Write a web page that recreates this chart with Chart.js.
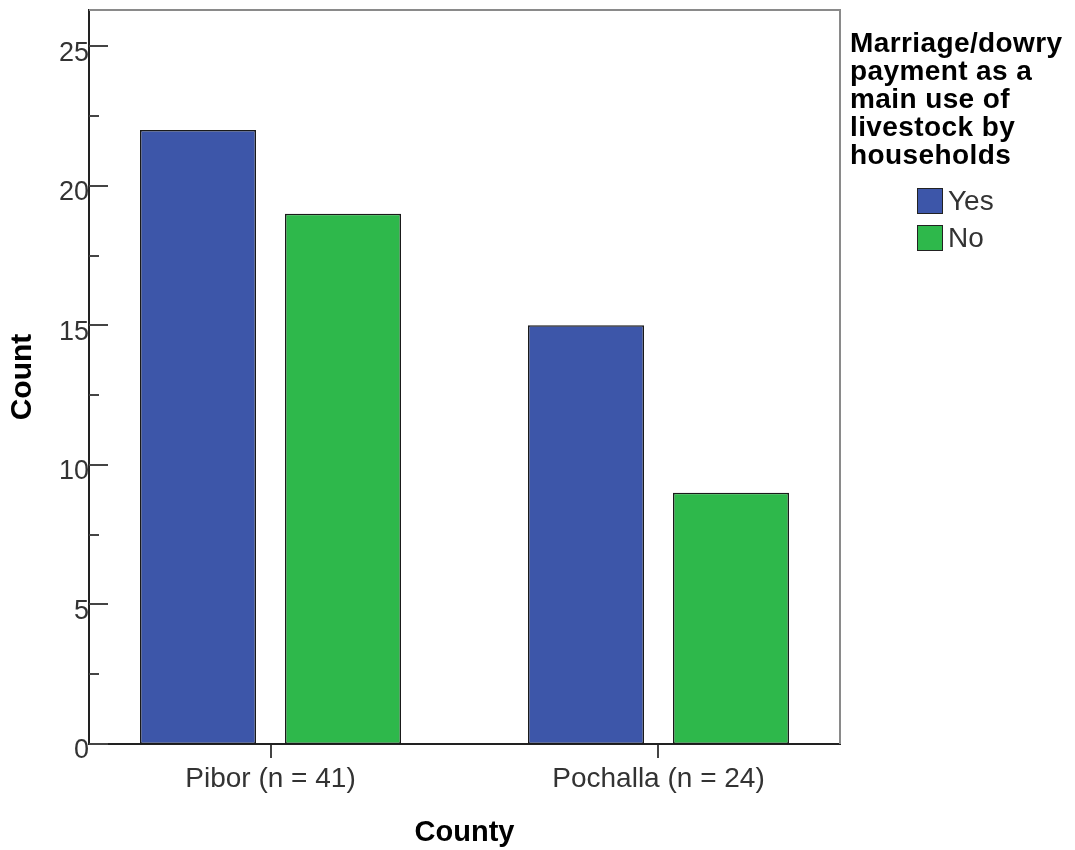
<!DOCTYPE html>
<html>
<head>
<meta charset="utf-8">
<script src="https://cdn.jsdelivr.net/npm/chart.js@4.4.0/dist/chart.umd.min.js"></script>
<style>
  html, body { margin: 0; padding: 0; background: #fff; }
  #wrap { position: relative; width: 1075px; height: 850px; }
  canvas { position: absolute; left: 0; top: 0; }
  #legend { position: absolute; left: 850px; top: 29px; font-family: "Liberation Sans", Arial, sans-serif; }
  #legend .title { font-weight: bold; font-size: 28px; line-height: 28px; letter-spacing: 0.4px; color: #000; white-space: nowrap; }
  #legend .item { position: absolute; left: 67px; height: 27px; font-size: 28px; color: #333; white-space: nowrap; }
  #legend .box { position: absolute; left: 0; top: 0; width: 24px; height: 24px; border: 1.5px solid #222; }
  #legend .lbl { position: absolute; left: 31px; top: -3px; }
</style>
</head>
<body>
<div id="wrap">
  <canvas id="c" width="1075" height="850"></canvas>
  <div id="legend"></div>
</div>
<script>
const categories = ["Pibor (n = 41)", "Pochalla (n = 24)"];
const seriesNames = ["Yes", "No"];
const yesCounts = [22, 15];
const noCounts = [19, 9];
const seriesColors = ["#3D56A9", "#2EB84B"];
const legendTitleLines = ["Marriage/dowry", "payment as a", "main use of", "livestock by", "households"];
const yTickStep = 5;
const yMax = 26.3;

const FONT = '"Liberation Sans", Arial, sans-serif';

const seriesValues = [yesCounts, noCounts];
const datasets = seriesNames.map((name, s) => ({
  label: name,
  data: categories.map((c, i) => ({ x: i, y: seriesValues[s][i] })),
  backgroundColor: seriesColors[s],
  borderColor: "#1a1a1a",
  borderWidth: 1.5,
  borderSkipped: false,
  categoryPercentage: 0.7474,
  barPercentage: 0.8
}));

const framePlugin = {
  id: "frame",
  afterDatasetsDraw(chart) {
    const ctx = chart.ctx;
    const a = chart.chartArea;
    const y = chart.scales.y;
    ctx.save();
    ctx.strokeStyle = "#8a8a8a";
    ctx.lineWidth = 2;
    ctx.beginPath();
    ctx.moveTo(a.left, a.top);
    ctx.lineTo(a.right, a.top);
    ctx.lineTo(a.right, a.bottom);
    ctx.stroke();
    ctx.strokeStyle = "#444";
    ctx.lineWidth = 2;
    for (let v = 0; v <= y.max; v += yTickStep / 2) {
      const major = Math.abs(v % yTickStep) < 1e-9;
      const py = Math.round(y.getPixelForValue(v));
      ctx.beginPath();
      ctx.moveTo(a.left, py);
      ctx.lineTo(a.left + (major ? 19 : 10), py);
      ctx.stroke();
    }
    ctx.restore();
  }
};

new Chart(document.getElementById("c"), {
  type: "bar",
  data: { datasets },
  plugins: [framePlugin],
  options: {
    responsive: false,
    animation: false,
    layout: { padding: { top: 10, right: 235, bottom: 0, left: 0 } },
    plugins: { legend: { display: false }, tooltip: { enabled: false } },
    scales: {
      x: {
        type: "linear",
        min: -0.4678,
        max: 1.4678,
        offset: false,
        afterBuildTicks(scale) { scale.ticks = categories.map((c, i) => ({ value: i })); },
        afterFit(scale) { scale.height = 106; scale.paddingLeft = 0; scale.paddingRight = 0; },
        ticks: {
          autoSkip: false, maxRotation: 0, padding: 4,
          color: "#333",
          font: { family: FONT, size: 28 },
          callback: (v) => categories[v]
        },
        grid: { offset: false, drawOnChartArea: false, drawTicks: true, tickLength: 14, color: "#444", lineWidth: 2 },
        border: { display: true, color: "#222", width: 2 },
        title: { display: true, text: "County", color: "#000", font: { family: FONT, size: 29, weight: "bold" }, padding: { top: 11, bottom: 0 } }
      },
      y: {
        type: "linear",
        min: 0,
        max: yMax,
        afterFit(scale) { scale.width = 89; scale.paddingTop = 0; scale.paddingBottom = 0; },
        ticks: {
          stepSize: yTickStep, includeBounds: false, padding: 0, labelOffset: 7,
          color: "#333",
          font: { family: FONT, size: 27 }
        },
        grid: { display: false, drawTicks: false },
        border: { display: true, color: "#222", width: 2 },
        title: { display: true, text: "Count", color: "#000", font: { family: FONT, size: 30, weight: "bold" }, padding: { top: 5, bottom: 0 } }
      }
    }
  }
});

const lg = document.getElementById("legend");
const t = document.createElement("div");
t.className = "title";
t.innerHTML = legendTitleLines.map(s => s.replace(/&/g, "&amp;")).join("<br>");
lg.appendChild(t);
seriesNames.forEach((name, i) => {
  const it = document.createElement("div");
  it.className = "item";
  it.style.top = (159 + i * 37) + "px";
  const b = document.createElement("div");
  b.className = "box";
  b.style.background = seriesColors[i];
  const l = document.createElement("div");
  l.className = "lbl";
  l.textContent = name;
  it.appendChild(b); it.appendChild(l);
  lg.appendChild(it);
});
</script>
</body>
</html>
